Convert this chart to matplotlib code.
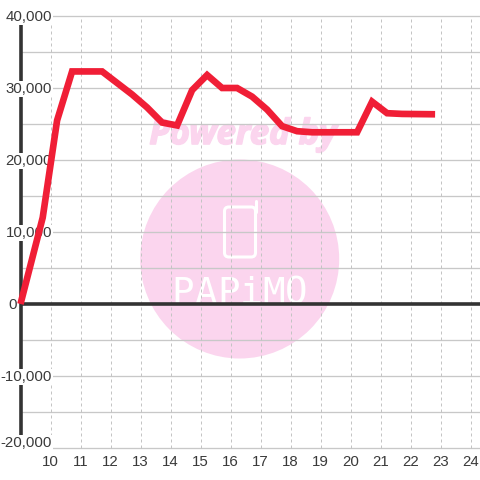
import matplotlib
matplotlib.use("Agg")
import matplotlib.pyplot as plt
from matplotlib.patches import Circle, FancyBboxPatch
from matplotlib.lines import Line2D
import matplotlib.patheffects as pe

hours = [9.0, 9.74, 10.22, 10.72, 11.72, 12.22, 12.72, 13.22, 13.72, 14.22, 14.72,
         15.22, 15.72, 16.22, 16.72, 17.22, 17.72, 18.22, 18.72, 20.22, 20.72, 21.22,
         21.72, 22.82]
values = [0, 12000, 25500, 32300, 32300, 30700, 29100, 27300, 25200, 24800, 29700,
          31800, 30000, 30000, 28800, 27000, 24700, 24000, 23850, 23850, 28100, 26500,
          26400, 26350]
y_major = [-20000, -10000, 0, 10000, 20000, 30000, 40000]
y_minor = [-15000, -5000, 5000, 15000, 25000, 35000]
x_ticks = list(range(10, 25))
brand_letters = ['P', 'A', 'P', 'i', 'M', 'O']

plt.rcParams['font.family'] = 'Liberation Sans'
fig = plt.figure(figsize=(4.8, 4.8), dpi=100)
ax = fig.add_axes([0, 0, 1, 1])
ax.set_xlim(10 - 50.5 / 30, 10 + (480 - 50.5) / 30)
ax.set_ylim((304 - 480) / 72 * 10000, 304 / 72 * 10000)
ax.axis('off')
ax.patch.set_visible(False)
ax.set_zorder(2)

def px(xp, yp):
    return xp / 480, 1 - yp / 480

WM = '#FBD5EE'
fig.patches.append(Circle(px(239.7, 259), 99.5 / 480, transform=fig.transFigure,
                          facecolor=WM, edgecolor='none', zorder=1))
fig.text(*px(243, 144), 'Powered by', color=WM, fontsize=25, fontweight='bold',
         fontstyle='italic', family='Open Sans', ha='center', va='baseline', zorder=1.1,
         path_effects=[pe.withStroke(linewidth=1.2, foreground=WM)])
fig.patches.append(FancyBboxPatch(px(224.5, 257), 31 / 480, 50 / 480,
                                  boxstyle='round,pad=0,rounding_size=0.009',
                                  transform=fig.transFigure, facecolor='none',
                                  edgecolor='white', linewidth=2.2, zorder=1.2))
fig.add_artist(Line2D([255.5 / 480] * 2, [1 - 212 / 480, 1 - 201 / 480], color='white', lw=2.2,
                      solid_capstyle='round', transform=fig.transFigure, zorder=1.2))
for xp, letter in zip([183, 206, 228.5, 251, 273.5, 296], brand_letters):
    fig.text(*px(xp, 304), letter, color='white', fontsize=27, family='DejaVu Sans Mono',
             ha='center', va='baseline', zorder=1.2)

left = ax.get_xlim()[0]
right = ax.get_xlim()[1]
for y in y_major + y_minor:
    if y != 0:
        ax.plot([left + 21 / 30, right], [y, y], color='#c8c8c8', lw=0.95, zorder=1)
for x in x_ticks:
    ax.plot([x, x], [-20000, 40000], color='#c4c4c4', lw=0.72, ls=(0, (3, 3)), zorder=1)

x0 = left + 20.7 / 30
ax.plot([x0, x0], [-20000, 40000], color='#333333', lw=2.6, solid_capstyle='butt', zorder=2)
ax.plot([x0, right], [0, 0], color='#333333', lw=2.6, solid_capstyle='butt', zorder=2)
ax.plot(hours, values, color='#F01E36', lw=4.8, solid_joinstyle='miter', solid_capstyle='butt', zorder=5)

FS = 10.8
for y in y_major:
    if y == 0:
        ax.text(left + 16.5 / 30, -100, '0', ha='right', va='center', fontsize=FS, color='#3a3a3a', zorder=4)
        continue
    yy = -19300 if y == -20000 else y - 150
    ax.text(left + 52 / 30, yy, f'{y:,}', ha='right', va='center', fontsize=FS, color='#3a3a3a', zorder=4,
            bbox=dict(facecolor='white', edgecolor='none', pad=1.0))
for x in x_ticks:
    ax.text(x, -21900, str(x), ha='center', va='center', fontsize=FS, color='#3a3a3a', zorder=4)

fig.savefig('out.png', dpi=100)
